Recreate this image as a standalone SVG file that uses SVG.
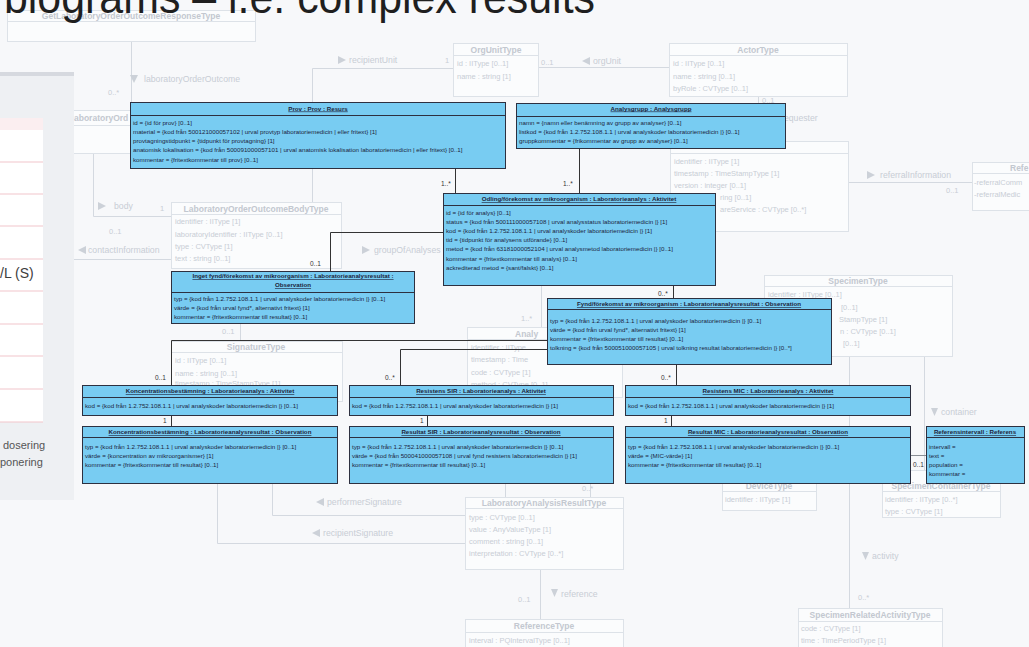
<svg xmlns="http://www.w3.org/2000/svg" width="1029" height="647" viewBox="0 0 1029 647">
<style>
text{font-family:"Liberation Sans",Arial,sans-serif}
.fb{fill:#fbfcfd;stroke:#dde2e8;stroke-width:1}
.fs{stroke:#dde2e8;stroke-width:1}
.fl{stroke:#d4d9e0;stroke-width:1;fill:none}
.fh{font-size:8.5px;font-weight:bold;fill:#c3c8d0;text-anchor:middle}
.fa{font-size:7.5px;fill:#c8cdd5}
.fc{font-size:8.7px;fill:#c8cdd5}
.fm{font-size:7.5px;fill:#c8cdd5}
.tr{fill:#ccd1d8}
.b{fill:#78ccf2;stroke:#2d3040;stroke-width:1}
.bl{stroke:#2d3040;stroke-width:1}
.bh{font-size:6.2px;font-weight:bold;text-decoration:underline;fill:#1c1f3a;text-anchor:middle}
.bt{font-size:6.2px;fill:#1c2540}
.c{stroke:#333;stroke-width:1;fill:none}
.m{font-size:6.5px;fill:#333}
</style>
<rect x="0" y="0" width="1029" height="647" fill="#f7f8fa"/>

<g id="faded-diagram">
  <path class="fl" d="M131.5,41 V110"/>
  <path class="fl" d="M312.5,202 V68.5 H453"/>
  <path class="fl" d="M539,67.5 H669"/>
  <path class="fl" d="M758.5,97 V141"/>
  <path class="fl" d="M848,182.5 H972"/>
  <path class="fl" d="M93.5,153 V216.5 H171"/>
  <path class="fl" d="M74,259.5 H171"/>
  <path class="fl" d="M240.5,323 V341"/>
  <path class="fl" d="M541.5,285 V327"/>
  <path class="fl" d="M272.5,483 V515.5 H465"/>
  <path class="fl" d="M217.5,483 V543.5 H465"/>
  <path class="fl" d="M505.5,483 V497"/>
  <path class="fl" d="M590.5,483 V497"/>
  <path class="fl" d="M540.5,569 V619"/>
  <path class="fl" d="M849.5,356 V608"/>
  <path class="fl" d="M924.5,356 V470"/>

  <rect class="fb" x="7.5" y="10.5" width="248" height="31"/>
  <line class="fs" x1="7.5" y1="21.5" x2="255.5" y2="21.5"/>
  <text class="fh" x="131" y="19">GetLaboratoryOrderOutcomeResponseType</text>

  <rect class="fb" x="453.5" y="43.5" width="85" height="53"/>
  <line class="fs" x1="453.5" y1="55.5" x2="538.5" y2="55.5"/>
  <text class="fh" x="496" y="52.5">OrgUnitType</text>
  <text class="fa" x="457" y="66">id : IIType [0..1]</text>
  <text class="fa" x="457" y="78.5">name : string [1]</text>

  <rect class="fb" x="669.5" y="43.5" width="178" height="53"/>
  <line class="fs" x1="669.5" y1="55.5" x2="847.5" y2="55.5"/>
  <text class="fh" x="758" y="52.5">ActorType</text>
  <text class="fa" x="673" y="66">id : IIType [0..1]</text>
  <text class="fa" x="673" y="78.5">name : string [0..1]</text>
  <text class="fa" x="673" y="90.5">byRole : CVType [0..1]</text>

  <rect class="fb" x="670.5" y="141.5" width="178" height="90"/>
  <line class="fs" x1="670.5" y1="153.5" x2="848.5" y2="153.5"/>
  <text class="fa" x="674" y="164">identifier : IIType [1]</text>
  <text class="fa" x="674" y="176">timestamp : TimeStampType [1]</text>
  <text class="fa" x="674" y="188">version : integer [0..1]</text>
  <text class="fa" x="720" y="200">ring [0..1]</text>
  <text class="fa" x="720" y="212">areService : CVType [0..*]</text>

  <rect class="fb" x="972.5" y="162.5" width="70" height="48"/>
  <line class="fs" x1="972.5" y1="173.5" x2="1042" y2="173.5"/>
  <text class="fh" x="1010" y="170.5" style="text-anchor:start">Refe</text>
  <text class="fa" x="974" y="184.5">-referralComm</text>
  <text class="fa" x="974" y="196.5">-referralMedic</text>

  <rect class="fb" x="20.5" y="110.5" width="200" height="43"/>
  <line class="fs" x1="20.5" y1="125.5" x2="220.5" y2="125.5"/>
  <text class="fh" x="74" y="121" style="text-anchor:start">aboratoryOrd</text>

  <rect class="fb" x="171.5" y="202.5" width="170" height="66"/>
  <line class="fs" x1="171.5" y1="214.5" x2="341.5" y2="214.5"/>
  <text class="fh" x="256" y="211.5">LaboratoryOrderOutcomeBodyType</text>
  <text class="fa" x="175" y="224">identifier : IIType [1]</text>
  <text class="fa" x="175" y="236.5">laboratoryIdentifier : IIType [0..1]</text>
  <text class="fa" x="175" y="248.5">type : CVType [1]</text>
  <text class="fa" x="175" y="260.5">text : string [0..1]</text>

  <rect class="fb" x="171.5" y="341.5" width="171" height="60"/>
  <line class="fs" x1="171.5" y1="352.5" x2="342.5" y2="352.5"/>
  <text class="fh" x="256" y="349.5">SignatureType</text>
  <text class="fa" x="175" y="363">id : IIType [0..1]</text>
  <text class="fa" x="175" y="375.5">name : string [0..1]</text>
  <text class="fa" x="175" y="386">timestamp : TimeStampType [1]</text>

  <rect class="fb" x="467.5" y="327.5" width="155" height="70"/>
  <line class="fs" x1="467.5" y1="339.5" x2="622.5" y2="339.5"/>
  <text class="fh" x="515" y="336.5" style="text-anchor:start">Analy</text>
  <text class="fa" x="471" y="349.5">identifier : IIType</text>
  <text class="fa" x="471" y="361.5">timestamp : Time</text>
  <text class="fa" x="471" y="374.5">code : CVType [1]</text>
  <text class="fa" x="471" y="387">method : CVType [0..1]</text>

  <rect class="fb" x="764.5" y="275.5" width="188" height="81"/>
  <line class="fs" x1="764.5" y1="286.5" x2="952.5" y2="286.5"/>
  <text class="fh" x="858" y="283.5">SpecimenType</text>
  <text class="fa" x="768" y="296.5">identifier : IIType [0..1]</text>
  <text class="fa" x="841" y="309.5">[0..1]</text>
  <text class="fa" x="839" y="321.5">StampType [1]</text>
  <text class="fa" x="840" y="333.5">n : CVType [0..1]</text>
  <text class="fa" x="843" y="345.5">[0..1]</text>

  <rect class="fb" x="722.5" y="470.5" width="94" height="40"/>
  <line class="fs" x1="722.5" y1="491.5" x2="816.5" y2="491.5"/>
  <text class="fh" x="769" y="488.5">DeviceType</text>
  <text class="fa" x="725" y="501.5">identifier : IIType [1]</text>

  <rect class="fb" x="882.5" y="470.5" width="118" height="47"/>
  <line class="fs" x1="882.5" y1="491.5" x2="1000.5" y2="491.5"/>
  <text class="fh" x="941" y="488.5">SpecimenContainerType</text>
  <text class="fa" x="885" y="501.5">identifier : IIType [0..*]</text>
  <text class="fa" x="885" y="513.5">type : CVType [1]</text>

  <rect class="fb" x="465.5" y="497.5" width="158" height="72"/>
  <line class="fs" x1="465.5" y1="508.5" x2="623.5" y2="508.5"/>
  <text class="fh" x="544" y="505.5">LaboratoryAnalysisResultType</text>
  <text class="fa" x="469" y="519.5">type : CVType [0..1]</text>
  <text class="fa" x="469" y="531.5">value : AnyValueType [1]</text>
  <text class="fa" x="469" y="543.5">comment : string [0..1]</text>
  <text class="fa" x="469" y="555.5">interpretation : CVType [0..*]</text>

  <rect class="fb" x="465.5" y="619.5" width="158" height="40"/>
  <line class="fs" x1="465.5" y1="632.5" x2="623.5" y2="632.5"/>
  <text class="fh" x="544" y="628.5">ReferenceType</text>
  <text class="fa" x="469" y="643">interval : PQIntervalType [0..1]</text>

  <rect class="fb" x="798.5" y="608.5" width="144" height="45"/>
  <line class="fs" x1="798.5" y1="621.5" x2="942.5" y2="621.5"/>
  <text class="fh" x="870" y="617.5">SpecimenRelatedActivityType</text>
  <text class="fa" x="801" y="630.5">code : CVType [1]</text>
  <text class="fa" x="801" y="642.5">time : TimePeriodType [1]</text>

  <polygon class="tr" points="130,75 138,75 134,83"/>
  <text class="fc" x="144" y="82">laboratoryOrderOutcome</text>
  <text class="fm" x="108" y="95">0..*</text>
  <polygon class="tr" points="338,56 346,60 338,64"/>
  <text class="fc" x="349" y="63">recipientUnit</text>
  <text class="fm" x="445" y="63">1</text>
  <polygon class="tr" points="590,57 582,61 590,65"/>
  <text class="fc" x="593" y="64">orgUnit</text>
  <text class="fm" x="541" y="65">0..1</text>
  <text class="fm" x="762" y="102.5">0..1</text>
  <text class="fc" x="781" y="121">requester</text>
  <polygon class="tr" points="867,171 875,175 867,179"/>
  <text class="fc" x="880" y="178">referralInformation</text>
  <text class="fm" x="946" y="193">0..1</text>
  <polygon class="tr" points="98,202 106,206 98,210"/>
  <text class="fc" x="114" y="209">body</text>
  <text class="fm" x="160" y="211">1</text>
  <text class="fm" x="109" y="234">0..1</text>
  <polygon class="tr" points="86,246 78,250 86,254"/>
  <text class="fc" x="88" y="253">contactInformation</text>
  <polygon class="tr" points="362,246 370,250 362,254"/>
  <text class="fc" x="374" y="253">groupOfAnalyses</text>
  <text class="fm" x="222" y="334">0..1</text>
  <text class="fm" x="521" y="321">1..*</text>
  <polygon class="tr" points="324,498 316,502 324,506"/>
  <text class="fc" x="327" y="505">performerSignature</text>
  <polygon class="tr" points="320,529 312,533 320,537"/>
  <text class="fc" x="323" y="536">recipientSignature</text>
  <text class="fm" x="582" y="491">0..*</text>
  <polygon class="tr" points="551,589 558,589 554.5,597"/>
  <text class="fc" x="561" y="597">reference</text>
  <text class="fm" x="518" y="602">0..1</text>
  <polygon class="tr" points="862,552 869,552 865.5,560"/>
  <text class="fc" x="872" y="559">activity</text>
  <text class="fm" x="858" y="600">0..*</text>
  <polygon class="tr" points="931,408 938,408 934.5,416"/>
  <text class="fc" x="941" y="415">container</text>
</g>

<g id="side-panel">
  <rect x="0" y="72" width="74" height="428" fill="#eef0f3"/>
  <rect x="0" y="72" width="74" height="4" fill="#d6d9df"/>
  <rect x="0" y="118" width="43" height="304" fill="#ffffff"/>
  <rect x="0" y="118" width="43" height="12" fill="#fbeef0"/>
  <g stroke="#f2c6cc" stroke-width="1.2">
    <line x1="0" y1="162" x2="43" y2="162"/>
    <line x1="0" y1="194" x2="43" y2="194"/>
    <line x1="0" y1="226" x2="43" y2="226"/>
    <line x1="0" y1="259" x2="43" y2="259"/>
    <line x1="0" y1="291" x2="43" y2="291"/>
    <line x1="0" y1="324" x2="43" y2="324"/>
    <line x1="0" y1="356" x2="43" y2="356"/>
    <line x1="0" y1="389" x2="43" y2="389"/>
    <line x1="0" y1="422" x2="43" y2="422"/>
  </g>
  <text x="0" y="278" font-size="14" fill="#3d3d3d">/L (S)</text>
  <text x="3" y="449" font-size="11" fill="#555">dosering</text>
  <text x="0" y="466" font-size="11" fill="#555">ponering</text>
</g>

<g id="connectors">
  <path class="c" d="M455.5,168 V193"/>
  <path class="c" d="M579.5,148 V193"/>
  <path class="c" d="M443,232.5 H330.5 V271"/>
  <path class="c" d="M673.5,285 V298"/>
  <path class="c" d="M547,340.5 H171.5 V385"/>
  <path class="c" d="M547,349.5 H400.5 V385"/>
  <path class="c" d="M676.5,364 V385"/>
  <path class="c" d="M171.5,415 V426"/>
  <path class="c" d="M427.5,415 V426"/>
  <path class="c" d="M671.5,415 V426"/>
  <path d="M910,455.5 H926" stroke="#8a8f96" stroke-width="1"/>
  <text class="m" x="441" y="186">1..*</text>
  <text class="m" x="563" y="186">1..*</text>
  <text class="m" x="310" y="265.5">0..1</text>
  <text class="m" x="658" y="295.5">0..*</text>
  <text class="m" x="155" y="380">0..1</text>
  <text class="m" x="385" y="380">0..*</text>
  <text class="m" x="661" y="380">0..*</text>
  <text class="m" x="163" y="423">1</text>
  <text class="m" x="420" y="423">1</text>
  <text class="m" x="664" y="423">1</text>
  <text class="m" x="913" y="467" fill="#777">0..1</text>
</g>

<g id="prov">
  <rect class="b" x="130.5" y="102.5" width="375" height="66"/>
  <line class="bl" x1="130.5" y1="115.5" x2="505.5" y2="115.5"/>
  <text class="bh" x="318" y="110.5">Prov : Prov : Resurs</text>
  <text class="bt" x="133" y="125">id = {id för prov} [0..1]</text>
  <text class="bt" x="133" y="134">material = {kod från 500121000057102 | urval provtyp laboratoriemedicin | eller fritext} [1]</text>
  <text class="bt" x="133" y="143">provtagningstidpunkt = {tidpunkt för provtagning} [1]</text>
  <text class="bt" x="133" y="152">anatomisk lokalisation = {kod från 500091000057101 | urval anatomisk lokalisation laboratoriemedicin | eller fritext} [0..1]</text>
  <text class="bt" x="133" y="161.5">kommentar = {fritextkommentar till prov} [0..1]</text>
</g>

<g id="analysgrupp">
  <rect class="b" x="516.5" y="103.5" width="269" height="45"/>
  <line class="bl" x1="516.5" y1="116.5" x2="785.5" y2="116.5"/>
  <text class="bh" x="651" y="110.5">Analysgrupp : Analysgrupp</text>
  <text class="bt" x="519" y="125">namn = {namn eller benämning av grupp av analyser} [0..1]</text>
  <text class="bt" x="519" y="134">listkod = {kod från 1.2.752.108.1.1 | urval analyskoder laboratoriemedicin |} [0..1]</text>
  <text class="bt" x="519" y="143">gruppkommentar = {frikommentar av grupp av analyser} [0..1]</text>
</g>

<g id="odling">
  <rect class="b" x="443.5" y="193.5" width="272" height="92"/>
  <line class="bl" x1="443.5" y1="205.5" x2="715.5" y2="205.5"/>
  <text class="bh" x="579" y="201">Odling/förekomst av mikroorganism : Laboratorieanalys : Aktivitet</text>
  <text class="bt" x="446" y="215">id = {id för analys} [0..1]</text>
  <text class="bt" x="446" y="224">status = {kod från 500111000057108 | urval analysstatus laboratoriemedicin |} [1]</text>
  <text class="bt" x="446" y="233">kod = {kod från 1.2.752.108.1.1 | urval analyskoder laboratoriemedicin |} [1]</text>
  <text class="bt" x="446" y="242">tid = {tidpunkt för analysens utförande} [0..1]</text>
  <text class="bt" x="446" y="251">metod = {kod från 63181000052104 | urval analysmetod laboratoriemedicin |} [0..1]</text>
  <text class="bt" x="446" y="261">kommentar = {fritextkommentar till analys} [0..1]</text>
  <text class="bt" x="446" y="270">ackrediterad metod = {sant/falskt} [0..1]</text>
</g>

<g id="inget-fynd">
  <rect class="b" x="171.5" y="271.5" width="243" height="52"/>
  <line class="bl" x1="171.5" y1="292.5" x2="414.5" y2="292.5"/>
  <text class="bh" x="293" y="278">Inget fynd/förekomst av mikroorganism : Laboratorieanalysresultat :</text>
  <text class="bh" x="293" y="287">Observation</text>
  <text class="bt" x="174" y="301">typ = {kod från 1.2.752.108.1.1 | urval analyskoder laboratoriemedicin |} [0..1]</text>
  <text class="bt" x="174" y="310">värde = {kod från urval fynd*, alternativt fritext} [1]</text>
  <text class="bt" x="174" y="319">kommentar = {fritextkommentar till resultat} [0..1]</text>
</g>

<g id="fynd">
  <rect class="b" x="547.5" y="298.5" width="284" height="66"/>
  <line class="bl" x1="547.5" y1="309.5" x2="831.5" y2="309.5"/>
  <text class="bh" x="689" y="306">Fynd/förekomst av mikroorganism : Laboratorieanalysresultat : Observation</text>
  <text class="bt" x="550" y="323">typ = {kod från 1.2.752.108.1.1 | urval analyskoder laboratoriemedicin |} [0..1]</text>
  <text class="bt" x="550" y="332">värde = {kod från urval fynd*, alternativt fritext} [1]</text>
  <text class="bt" x="550" y="341">kommentar = {fritextkommentar till resultat} [0..1]</text>
  <text class="bt" x="550" y="350">tolkning = {kod från 500051000057105 | urval tolkning resultat laboratoriemedicin |} [0..*]</text>
</g>

<g id="koncentration-aktivitet">
  <rect class="b" x="82.5" y="385.5" width="255" height="30"/>
  <line class="bl" x1="82.5" y1="397.5" x2="337.5" y2="397.5"/>
  <text class="bh" x="210" y="393">Koncentrationsbestämning : Laboratorieanalys : Aktivitet</text>
  <text class="bt" x="85" y="408">kod = {kod från 1.2.752.108.1.1 | urval analyskoder laboratoriemedicin |} [0..1]</text>
</g>
<g id="koncentration-observation">
  <rect class="b" x="82.5" y="426.5" width="255" height="57"/>
  <line class="bl" x1="82.5" y1="437.5" x2="337.5" y2="437.5"/>
  <text class="bh" x="210" y="434">Koncentrationsbestämning : Laboratorieanalysresultat : Observation</text>
  <text class="bt" x="85" y="448.5">typ = {kod från 1.2.752.108.1.1 | urval analyskoder laboratoriemedicin |} [0..1]</text>
  <text class="bt" x="85" y="457.5">värde = {koncentration av mikroorganismer} [1]</text>
  <text class="bt" x="85" y="466.5">kommentar = {fritextkommentar till resultat} [0..1]</text>
</g>

<g id="resistens-sir">
  <rect class="b" x="349.5" y="385.5" width="264" height="30"/>
  <line class="bl" x1="349.5" y1="397.5" x2="613.5" y2="397.5"/>
  <text class="bh" x="481" y="393">Resistens SIR : Laboratorieanalys : Aktivitet</text>
  <text class="bt" x="352" y="408">kod = {kod från 1.2.752.108.1.1 | urval analyskoder laboratoriemedicin |} [1]</text>
</g>
<g id="resultat-sir">
  <rect class="b" x="349.5" y="426.5" width="264" height="57"/>
  <line class="bl" x1="349.5" y1="437.5" x2="613.5" y2="437.5"/>
  <text class="bh" x="481" y="434">Resultat SIR : Laboratorieanalysresultat : Observation</text>
  <text class="bt" x="352" y="448.5">typ = {kod från 1.2.752.108.1.1 | urval analyskoder laboratoriemedicin |} [0..1]</text>
  <text class="bt" x="352" y="457.5">värde = {kod från 500041000057108 | urval fynd resistens laboratoriemedicin |} [1]</text>
  <text class="bt" x="352" y="466.5">kommentar = {fritextkommentar till resultat} [0..1]</text>
</g>

<g id="resistens-mic">
  <rect class="b" x="625.5" y="385.5" width="285" height="30"/>
  <line class="bl" x1="625.5" y1="397.5" x2="910.5" y2="397.5"/>
  <text class="bh" x="768" y="393">Resistens MIC : Laboratorieanalys : Aktivitet</text>
  <text class="bt" x="628" y="408">kod = {kod från 1.2.752.108.1.1 | urval analyskoder laboratoriemedicin |} [1]</text>
</g>
<g id="resultat-mic">
  <rect class="b" x="625.5" y="426.5" width="285" height="57"/>
  <line class="bl" x1="625.5" y1="437.5" x2="910.5" y2="437.5"/>
  <text class="bh" x="768" y="434">Resultat MIC : Laboratorieanalysresultat : Observation</text>
  <text class="bt" x="628" y="448.5">typ = {kod från 1.2.752.108.1.1 | urval analyskoder laboratoriemedicin |} [0..1]</text>
  <text class="bt" x="628" y="457.5">värde = {MIC-värde} [1]</text>
  <text class="bt" x="628" y="466.5">kommentar = {fritextkommentar till resultat} [0..1]</text>
</g>

<g id="referensintervall">
  <rect class="b" x="926.5" y="426.5" width="98" height="57"/>
  <line class="bl" x1="926.5" y1="437.5" x2="1024.5" y2="437.5"/>
  <text class="bh" x="975" y="434">Referensintervall : Referens</text>
  <text class="bt" x="929" y="448.5">intervall =</text>
  <text class="bt" x="929" y="457.5">text =</text>
  <text class="bt" x="929" y="466.5">population =</text>
  <text class="bt" x="929" y="475.5">kommentar =</text>
</g>

<g id="title">
  <text x="4" y="13" font-family="Lato, 'Open Sans', sans-serif" font-size="46" fill="#1f1f1f" textLength="591" lengthAdjust="spacingAndGlyphs">biograms – i.e. complex results</text>
</g>
</svg>
